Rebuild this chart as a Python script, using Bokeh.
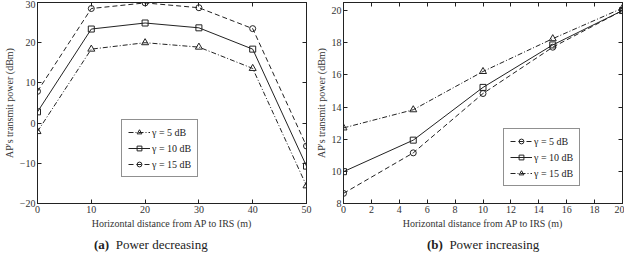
from bokeh.plotting import figure
from bokeh.models import (Range1d, LinearAxis, Legend, LegendItem, Div,
                          CustomJSTickFormatter, FixedTicker)
from bokeh.layouts import row, column
from bokeh.embed import file_html
from bokeh.resources import INLINE

# ---- data: (a) Power decreasing ----
xa = [0, 10, 20, 30, 40, 50]
a_g5 = [-2.1, 18.4, 20.0, 18.9, 13.6, -15.6]
a_g10 = [2.8, 23.4, 24.9, 23.7, 18.4, -10.7]
a_g15 = [7.9, 28.5, 29.9, 28.7, 23.5, -5.7]
a_xticks = [0, 10, 20, 30, 40, 50]
a_yticks = [-20, -10, 0, 10, 20, 30]

# ---- data: (b) Power increasing ----
xb = [0, 5, 10, 15, 20]
b_g5 = [8.63, 11.15, 14.84, 17.72, 20.0]
b_g10 = [9.98, 11.94, 15.22, 17.86, 20.0]
b_g15 = [12.70, 13.83, 16.21, 18.25, 20.15]
b_xticks = [0, 2, 4, 6, 8, 10, 12, 14, 16, 18, 20]
b_yticks = [8, 10, 12, 14, 16, 18, 20]

labels = ["\u03b3 = 5 dB", "\u03b3 = 10 dB", "\u03b3 = 15 dB"]
xlabel = "Horizontal distance from AP to IRS (m)"
ylabel = "AP's transmit power (dBm)"
captions = [("(a)", "Power decreasing"), ("(b)", "Power increasing")]

FONT = "Liberation Serif"
INK = "#222222"
TXT = "#333333"
FS = "10px"


def style_axes(p, xticks, yticks):
    for ax in p.xaxis + p.yaxis:
        ax.major_tick_in = 4
        ax.major_tick_out = 0
        ax.minor_tick_line_color = None
        ax.axis_line_color = INK
        ax.major_tick_line_color = INK
        ax.major_label_text_font = FONT
        ax.major_label_text_font_size = FS
        ax.major_label_text_color = TXT
        ax.major_label_standoff = 2
        ax.axis_label_text_font = FONT
        ax.axis_label_text_font_size = FS
        ax.axis_label_text_font_style = "normal"
        ax.axis_label_text_color = TXT
        ax.axis_label_standoff = 2
    p.xaxis.ticker = FixedTicker(ticks=xticks)
    p.yaxis.ticker = FixedTicker(ticks=yticks)
    blank = CustomJSTickFormatter(code="return ''")
    top = LinearAxis(ticker=FixedTicker(ticks=xticks), formatter=blank,
                     major_tick_in=4, major_tick_out=0, minor_tick_line_color=None,
                     axis_line_color=INK, major_tick_line_color=INK,
                     major_label_standoff=0, major_label_text_font_size="1px")
    right = LinearAxis(ticker=FixedTicker(ticks=yticks), formatter=blank,
                       major_tick_in=4, major_tick_out=0, minor_tick_line_color=None,
                       axis_line_color=INK, major_tick_line_color=INK,
                       major_label_standoff=0, major_label_text_font_size="1px")
    p.add_layout(top, "above")
    p.add_layout(right, "right")
    p.xgrid.visible = False
    p.ygrid.visible = False
    p.outline_line_color = INK


def series(p, x, y, dash, marker, size):
    r1 = p.line(x, y, line_color=INK, line_width=1, line_dash=dash)
    r2 = p.scatter(x, y, marker=marker, size=size, line_color=INK,
                   fill_color="white", fill_alpha=0, line_width=1)
    return [r1, r2]


def make_legend(p, items, loc):
    lg = Legend(items=items, location=loc, label_text_font=FONT,
                label_text_font_size=FS, label_text_color=INK,
                border_line_color=INK, border_line_width=1,
                glyph_width=22, glyph_height=12, label_standoff=2,
                spacing=4, padding=6, margin=0, label_height=12,
                background_fill_alpha=1)
    p.add_layout(lg, "center")


def caption_div(tag, text, pad):
    return Div(text="<b>%s</b>&nbsp;&nbsp;%s" % (tag, text), width=312, height=18,
               styles={"font-family": FONT, "font-size": "13px", "color": INK,
                       "padding-left": "%dpx" % pad, "line-height": "18px",
                       "white-space": "nowrap"})


H = 231

# ---------- left panel ----------
p1 = figure(width=312, height=H, output_backend="svg", toolbar_location=None,
            x_range=Range1d(0, 50), y_range=Range1d(-20, 30),
            min_border_left=0, min_border_right=6, min_border_top=2,
            min_border_bottom=26)
p1.xaxis.axis_label = xlabel
p1.yaxis.axis_label = ylabel
style_axes(p1, a_xticks, a_yticks)
ra5 = series(p1, xa, a_g5, "5 2 1 2", "triangle", 7)
ra10 = series(p1, xa, a_g10, "solid", "square", 6)
ra15 = series(p1, xa, a_g15, "5 3", "circle", 6)
make_legend(p1, [LegendItem(label=labels[0], renderers=ra5),
                 LegendItem(label=labels[1], renderers=ra10),
                 LegendItem(label=labels[2], renderers=ra15)], (84, 26))

# ---------- right panel ----------
p2 = figure(width=312, height=H, output_backend="svg", toolbar_location=None,
            x_range=Range1d(0, 20), y_range=Range1d(8, 20.5),
            min_border_left=0, min_border_right=2, min_border_top=2,
            min_border_bottom=26)
p2.xaxis.axis_label = xlabel
p2.yaxis.axis_label = ylabel
style_axes(p2, b_xticks, b_yticks)
rb5 = series(p2, xb, b_g5, "5 3", "circle", 6)
rb10 = series(p2, xb, b_g10, "solid", "square", 6)
rb15 = series(p2, xb, b_g15, "5 2 1 2", "triangle", 7)
make_legend(p2, [LegendItem(label=labels[0], renderers=rb5),
                 LegendItem(label=labels[1], renderers=rb10),
                 LegendItem(label=labels[2], renderers=rb15)], (160, 17))

d1 = caption_div(captions[0][0], captions[0][1], 89)
d2 = caption_div(captions[1][0], captions[1][1], 100)

layout = column(row(p1, p2), row(d1, d2))
open("out.html", "w").write(file_html(layout, INLINE))
